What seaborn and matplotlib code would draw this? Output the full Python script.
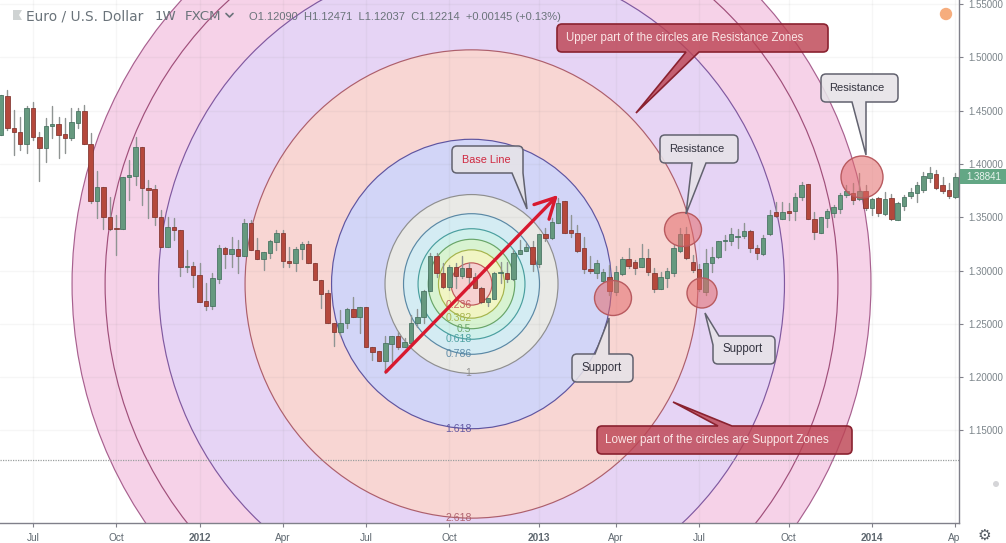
import numpy as np
import pandas as pd
import matplotlib
matplotlib.use("Agg")
import matplotlib.pyplot as plt
import seaborn as sns
from matplotlib.lines import Line2D
from matplotlib.patches import Ellipse, PathPatch, Polygon, Circle
from matplotlib.path import Path
from matplotlib.transforms import Affine2D, Bbox, TransformedBbox

# ---- price data (EUR/USD weekly) ----
opens = [1.4272,1.4640,1.4337,1.4303,1.4184,1.4522,1.4256,1.4153,1.4359,1.4372,
1.4281,1.4241,1.4387,1.4500,1.4187,1.3656,1.3787,1.3505,1.3397,1.3387,
1.3881,1.3887,1.4162,1.3777,1.3762,1.3505,1.3224,1.3412,1.3381,1.3031,
1.3043,1.2962,1.2716,1.2669,1.2924,1.3212,1.3153,1.3200,1.3137,1.3449,
1.3193,1.3109,1.3168,1.3265,1.3350,1.3093,1.3068,1.3200,1.3249,1.3074,
1.2912,1.2787,1.2511,1.2427,1.2511,1.2637,1.2562,1.2655,1.2286,1.2246,
1.2152,1.2311,1.2386,1.2280,1.2323,1.2511,1.2567,1.2811,1.3137,1.2974,
1.2843,1.3036,1.2952,1.3021,1.2937,1.2839,1.2709,1.2731,1.2980,1.2980,
1.2921,1.3155,1.3184,1.3224,1.3059,1.3343,1.3303,1.3449,1.3656,1.3381,
1.3355,1.3209,1.3012,1.2980,1.2905,1.2943,1.2802,1.2968,1.3109,1.3083,
1.3036,1.3121,1.2974,1.2827,1.2933,1.2980,1.3184,1.3343,1.3083,1.3012,
1.2802,1.3068,1.3130,1.3275,1.3275,1.3318,1.3324,1.3374,1.3215,1.3155,
1.3343,1.3552,1.3484,1.3562,1.3562,1.3687,1.3812,1.3484,1.3355,1.3490,
1.3543,1.3581,1.3706,1.3725,1.3668,1.3750,1.3584,1.3681,1.3531,1.3678,
1.3474,1.3606,1.3703,1.3725,1.3756,1.3865,1.3906,1.3803,1.3756,1.3687]
closes = [1.4647,1.4335,1.4300,1.4184,1.4528,1.4250,1.4153,1.4359,1.4372,1.4272,
1.4241,1.4396,1.4500,1.4184,1.3656,1.3787,1.3503,1.3387,1.3387,1.3881,
1.3894,1.4162,1.3772,1.3753,1.3500,1.3224,1.3412,1.3381,1.3036,1.3043,
1.2956,1.2709,1.2669,1.2928,1.3215,1.3153,1.3200,1.3137,1.3449,1.3193,
1.3109,1.3174,1.3275,1.3350,1.3090,1.3068,1.3205,1.3249,1.3068,1.2912,
1.2778,1.2505,1.2427,1.2511,1.2640,1.2567,1.2655,1.2280,1.2239,1.2152,
1.2318,1.2386,1.2280,1.2328,1.2511,1.2567,1.2811,1.3137,1.2974,1.2849,
1.3036,1.2952,1.3021,1.2937,1.2834,1.2709,1.2746,1.2980,1.2987,1.2921,
1.3162,1.3193,1.3224,1.3059,1.3343,1.3303,1.3458,1.3637,1.3355,1.3355,
1.3184,1.3015,1.2999,1.3074,1.2984,1.2811,1.2990,1.3109,1.3046,1.3021,
1.3121,1.2984,1.2824,1.2937,1.2996,1.3215,1.3343,1.3115,1.3005,1.2824,
1.3068,1.3130,1.3280,1.3287,1.3343,1.3327,1.3374,1.3215,1.3168,1.3303,
1.3521,1.3515,1.3552,1.3537,1.3687,1.3803,1.3484,1.3365,1.3500,1.3559,
1.3600,1.3706,1.3747,1.3662,1.3743,1.3584,1.3671,1.3537,1.3671,1.3484,
1.3631,1.3693,1.3734,1.3803,1.3887,1.3912,1.3778,1.3747,1.3700,1.3881]
highs = [1.4647,1.4694,1.4506,1.4441,1.4547,1.4581,1.4303,1.4434,1.4547,1.4443,
1.4434,1.4522,1.4522,1.4553,1.4288,1.3934,1.3787,1.3693,1.3521,1.3881,
1.4037,1.4256,1.4162,1.3850,1.3803,1.3568,1.3505,1.3490,1.3381,1.3193,
1.3083,1.3068,1.2881,1.2980,1.3240,1.3218,1.3318,1.3287,1.3481,1.3474,
1.3303,1.3174,1.3287,1.3381,1.3381,1.3218,1.3218,1.3271,1.3280,1.3074,
1.2912,1.2818,1.2511,1.2630,1.2646,1.2755,1.2655,1.2655,1.2286,1.2246,
1.2386,1.2386,1.2427,1.2365,1.2583,1.2637,1.2818,1.3162,1.3168,1.3068,
1.3052,1.3068,1.3137,1.3068,1.2977,1.2849,1.2746,1.2990,1.3083,1.3083,
1.3193,1.3287,1.3256,1.3280,1.3343,1.3397,1.3490,1.3678,1.3656,1.3521,
1.3428,1.3312,1.3137,1.3099,1.3012,1.3052,1.3043,1.3124,1.3209,1.3099,
1.3246,1.3200,1.3021,1.2990,1.3021,1.3240,1.3397,1.3412,1.3146,1.3062,
1.3200,1.3224,1.3280,1.3334,1.3397,1.3387,1.3443,1.3381,1.3240,1.3334,
1.3568,1.3646,1.3646,1.3631,1.3725,1.3831,1.3812,1.3552,1.3500,1.3575,
1.3615,1.3725,1.3803,1.3819,1.3912,1.3803,1.3678,1.3693,1.3740,1.3716,
1.3646,1.3709,1.3772,1.3831,1.3927,1.3968,1.3943,1.3881,1.3819,1.3912]
lows = [1.4272,1.4319,1.4084,1.4131,1.4103,1.4225,1.3840,1.4016,1.4241,1.4059,
1.4100,1.4225,1.4340,1.4184,1.3631,1.3496,1.3390,1.3381,1.3146,1.3387,
1.3662,1.3803,1.3615,1.3490,1.3428,1.3224,1.3224,1.3287,1.2949,1.2990,
1.2849,1.2709,1.2630,1.2637,1.2881,1.3027,1.3031,1.2980,1.3137,1.3193,
1.3109,1.3005,1.3115,1.3193,1.3031,1.3031,1.2996,1.3109,1.3068,1.2912,
1.2649,1.2505,1.2293,1.2396,1.2459,1.2562,1.2412,1.2280,1.2161,1.2152,
1.2036,1.2145,1.2261,1.2280,1.2318,1.2474,1.2511,1.2811,1.2943,1.2834,
1.2818,1.2837,1.2927,1.2837,1.2834,1.2693,1.2668,1.2731,1.2881,1.2896,
1.2912,1.3155,1.3184,1.2999,1.3031,1.3280,1.3293,1.3443,1.3355,1.3318,
1.3177,1.2974,1.2974,1.2927,1.2896,1.2771,1.2771,1.2959,1.3021,1.2968,
1.3031,1.2959,1.2802,1.2824,1.2843,1.2949,1.3177,1.3106,1.2990,1.2811,
1.2771,1.2990,1.3115,1.3193,1.3240,1.3209,1.3303,1.3177,1.3106,1.3146,
1.3334,1.3505,1.3481,1.3474,1.3474,1.3662,1.3484,1.3293,1.3350,1.3406,
1.3500,1.3537,1.3693,1.3625,1.3662,1.3568,1.3521,1.3515,1.3521,1.3474,
1.3474,1.3568,1.3678,1.3646,1.3740,1.3834,1.3762,1.3725,1.3678,1.3678]

fib_levels = [4.618, 4.236, 3.618, 2.618, 1.618, 1.0, 0.786, 0.618, 0.5, 0.382, 0.236]
fib_labels = ["", "", "", "2.618", "1.618", "1", "0.786", "0.618", "0.5", "0.382", "0.236"]
fib_fills = ["#f6d2e8", "#f6d2e8", "#e6d4f5", "#f8d6d3", "#d2d5f7", "#e9e9e6", "#d4ecf3",
             "#cff0eb", "#d8f3d1", "#f1f5c4", "#f6d1d1"]
fib_edges = ["#a8608f", "#a04f7a", "#8059a0", "#ad5f6c", "#5f55a0", "#8f8f8f", "#5a88a5",
             "#4a9f9f", "#68a568", "#a5b44c", "#c05a5a"]

price_ticks = [1.55, 1.50, 1.45, 1.40, 1.35, 1.30, 1.25, 1.20, 1.15]
week_ticks = [5, 18, 31, 44, 57, 70, 84, 96, 109, 123, 136, 149]
week_labels = ["Jul", "Oct", "2012", "Apr", "Jul", "Oct", "2013", "Apr", "Jul", "Oct", "2014", "Apr"]
last_price = 1.38841
current_price = 1.12214
base_start = (60.1, 1.2049)
base_end = (86.96, 1.3709)

weeks = np.arange(len(opens))
df = pd.DataFrame({"week": weeks, "open": opens, "close": closes, "high": highs, "low": lows})
df["bottom"] = df[["open", "close"]].min(axis=1)
df["body"] = (df["close"] - df["open"]).abs()

sns.set_theme(style="white")
plt.rcParams["font.family"] = ["Liberation Sans", "DejaVu Sans"]
W, H = 1006, 543
fig = plt.figure(figsize=(W / 100, H / 100), dpi=100, facecolor="white")
ax = fig.add_axes([0, 20 / H, 959 / W, 523 / H])
pix = Affine2D().scale(1 / W, -1 / H).translate(0, 1) + fig.transFigure

# ---- Fibonacci circles ----
cx, cy = 73.46, 1.2874
rx, ry = 13.505, 0.0839
for lev, lab, fc, ec in zip(fib_levels, fib_labels, fib_fills, fib_edges):
    ax.add_patch(Ellipse((cx, cy), 2 * rx * lev, 2 * ry * lev, facecolor=fc, edgecolor=ec, lw=0.85, zorder=1))
    if lab:
        ax.text(cx, cy - ry * lev, lab, color=ec, fontsize=7.6, ha="right", va="center", zorder=2,
                clip_on=True, alpha=0.95)

# ---- candles ----
wicks = df.melt(id_vars="week", value_vars=["high", "low"], value_name="price")
sns.lineplot(data=wicks, x="week", y="price", units="week", estimator=None, color="#8f9493",
             lw=1.0, ax=ax, zorder=3, legend=False)
up = df[df["close"] >= df["open"]]
dn = df[df["close"] < df["open"]]
sns.barplot(data=up, x="week", y="body", bottom=up["bottom"].values, native_scale=True, color="#66997f",
            saturation=1, width=0.7, edgecolor="#44705e", linewidth=0.55, errorbar=None, ax=ax, zorder=4)
sns.barplot(data=dn, x="week", y="body", bottom=dn["bottom"].values, native_scale=True, color="#b5483c",
            saturation=1, width=0.7, edgecolor="#80332d", linewidth=0.55, errorbar=None, ax=ax, zorder=4)

ax.set_xlim(-0.156, 149.57)
ax.set_ylim(1.0632, 1.5538)
ax.set_xlabel("")
ax.set_ylabel("")

# ---- grid and axes ----
for t in week_ticks:
    ax.axvline(t, color="#808080", alpha=0.07, lw=1, zorder=1.5)
for t in price_ticks:
    ax.axhline(t, color="#808080", alpha=0.07, lw=1, zorder=1.5)
ax.axhline(current_price, color="#9a9f9f", lw=0.9, ls=(0, (1, 1)), zorder=2.5)

for s in ["top", "left"]:
    ax.spines[s].set_visible(False)
for s in ["right", "bottom"]:
    ax.spines[s].set_color("#80808a")
    ax.spines[s].set_linewidth(1.0)
ax.yaxis.tick_right()
ax.set_yticks(price_ticks)
ax.set_yticklabels([f"{p:.5f}" for p in price_ticks], color="#7b848a", fontsize=7.0)
ax.set_xticks(week_ticks)
ax.set_xticklabels(week_labels, color="#5f6870", fontsize=7.3)
ax.tick_params(axis="both", length=3, width=0.8, color="#80808a", pad=4, bottom=True, right=True, left=False)
for lab, txt in zip(ax.get_xticklabels(), week_labels):
    if txt.startswith("20"):
        lab.set_fontweight("bold")
last = ax.get_xticklabels()[-1]
last.set_clip_box(TransformedBbox(Bbox([[0, 0], [959 / W, 1]]), fig.transFigure))
last.set_clip_on(True)

# ---- base line ----
ax.annotate("", xy=base_end, xytext=base_start, zorder=5,
            arrowprops=dict(arrowstyle="->,head_length=0.8,head_width=0.42", color="#d8192f", lw=2.4,
                            mutation_scale=18, shrinkA=0, shrinkB=0))


# ---- overlay in picture pixels ----
def rounded(pts):
    """closed path from (x, y, corner_radius) vertices"""
    n = len(pts)
    verts, codes = [], []
    for k in range(n):
        x, y, r = pts[k]
        p = np.array([x, y], float)
        a = np.array(pts[k - 1][:2], float)
        b = np.array(pts[(k + 1) % n][:2], float)
        if r > 0:
            s = p + (a - p) / np.linalg.norm(a - p) * r
            e = p + (b - p) / np.linalg.norm(b - p) * r
            verts += [s, p, e]
            codes += [Path.MOVETO if k == 0 else Path.LINETO, Path.CURVE3, Path.CURVE3]
        else:
            verts.append(p)
            codes.append(Path.MOVETO if k == 0 else Path.LINETO)
    verts.append(verts[0])
    codes.append(Path.CLOSEPOLY)
    return Path(verts, codes)


def callout(pts, fc, ec, lw=1.1):
    fig.add_artist(PathPatch(rounded(pts), transform=pix, facecolor=fc, edgecolor=ec, lw=lw, zorder=6))


def ptext(x, y, s, **kw):
    kw.setdefault("zorder", 7)
    fig.text(x, y, s, transform=pix, va="center", **kw)


def zone(x, y, a, b):
    fig.add_artist(Ellipse((x, y), 2 * a, 2 * b, transform=pix, facecolor=(0.89, 0.42, 0.42, 0.55),
                           edgecolor="#b85a5f", lw=1.0, zorder=5))


zone(613, 298, 18.5, 17.5)
zone(702, 293, 15, 15)
zone(683, 229.5, 18.5, 17)
zone(862, 177, 21, 21)

GREY = (0.90, 0.89, 0.91, 0.88)
GE = "#62626f"
R = 5
# Base Line
callout([(452, 146, R), (523, 146, R), (523, 173, 0), (527, 209, 0), (512, 173, 0), (452, 173, R)], GREY, GE)
ptext(486, 160, "Base Line", color="#d02840", fontsize=7.8, ha="center")
# Resistance (middle)
callout([(660, 135, R), (738, 135, R), (738, 163, R), (706, 163, 0), (686, 214, 0), (692, 163, 0), (660, 163, R)], GREY, GE)
ptext(697, 149, "Resistance", color="#33333f", fontsize=8, ha="center")
# Resistance (right)
callout([(821, 74, R), (898, 74, R), (898, 102, R), (866, 102, 0), (866, 155, 0), (852, 102, 0), (821, 102, R)], GREY, GE)
ptext(857, 88, "Resistance", color="#33333f", fontsize=8, ha="center")
# Support (left)
callout([(572, 354, R), (595, 354, 0), (609, 318, 0), (609, 354, 0), (633, 354, R), (633, 382, R), (572, 382, R)], GREY, GE)
ptext(602, 368, "Support", color="#33333f", fontsize=8.3, ha="center")
# Support (right)
callout([(713, 345, 0), (705, 313, 0), (719, 336, 0), (775, 336, R), (775, 364, R), (713, 364, R)], GREY, GE)
ptext(743, 349, "Support", color="#33333f", fontsize=8.3, ha="center")

RED = (0.74, 0.27, 0.33, 0.82)
RE = "#8a2230"
callout([(557, 24, R), (828, 24, R), (828, 52, R), (699, 52, 0), (636, 113, 0), (686, 52, 0), (557, 52, R)], RED, RE, 1.2)
ptext(566, 38, "Upper part of the circles are Resistance Zones", color="#fbe6e6", fontsize=8.3, ha="left")
callout([(597, 426, R), (718, 426, 0), (673, 402, 0), (732, 426, 0), (852, 426, R), (852, 454, R), (597, 454, R)], RED, RE, 1.2)
ptext(605, 440, "Lower part of the circles are Support Zones", color="#fbe6e6", fontsize=8.4, ha="left")

# ---- header ----
HC = "#6a737a"
ptext(26, 16, "Euro / U.S. Dollar", color=HC, fontsize=9.9, family="DejaVu Sans")
ptext(155, 16, "1W", color=HC, fontsize=9.6, family="DejaVu Sans")
ptext(185, 16, "FXCM", color=HC, fontsize=9.6, family="DejaVu Sans")
fig.add_artist(Line2D([226, 229.5, 233], [13.5, 17, 13.5], transform=pix, color=HC, lw=1.2, zorder=7))
ptext(249, 17, "O1.12090  H1.12471  L1.12037  C1.12214  +0.00145 (+0.13%)", color=HC, fontsize=8.0)
fig.add_artist(Polygon([(13, 10), (22, 10), (19, 15), (22, 20), (13, 20)], closed=True, transform=pix,
                       facecolor="#cfd3d3", edgecolor="none", zorder=7))
fig.add_artist(Circle((946, 14), 6.2, transform=pix, facecolor="#f6ad7d", edgecolor="none", zorder=7))
fig.add_artist(Circle((996, 484), 3, transform=pix, facecolor="#d5d5d8", edgecolor="none", zorder=7))

# ---- last price tag and settings ----
tag_y0, tag_y1 = 169, 184
fig.add_artist(Polygon([(960, tag_y0), (1006, tag_y0), (1006, tag_y1), (960, tag_y1)], closed=True, transform=pix,
                       facecolor="#63a785", edgecolor="none", zorder=7))
ptext(966, 176.5, f"{last_price:.5f}", color="#e9f4ee", fontsize=7.0, zorder=8)
ptext(984, 535, "\u2699", color="#555b62", fontsize=11, ha="center", family="DejaVu Sans")

fig.savefig("out.png", dpi=100)
